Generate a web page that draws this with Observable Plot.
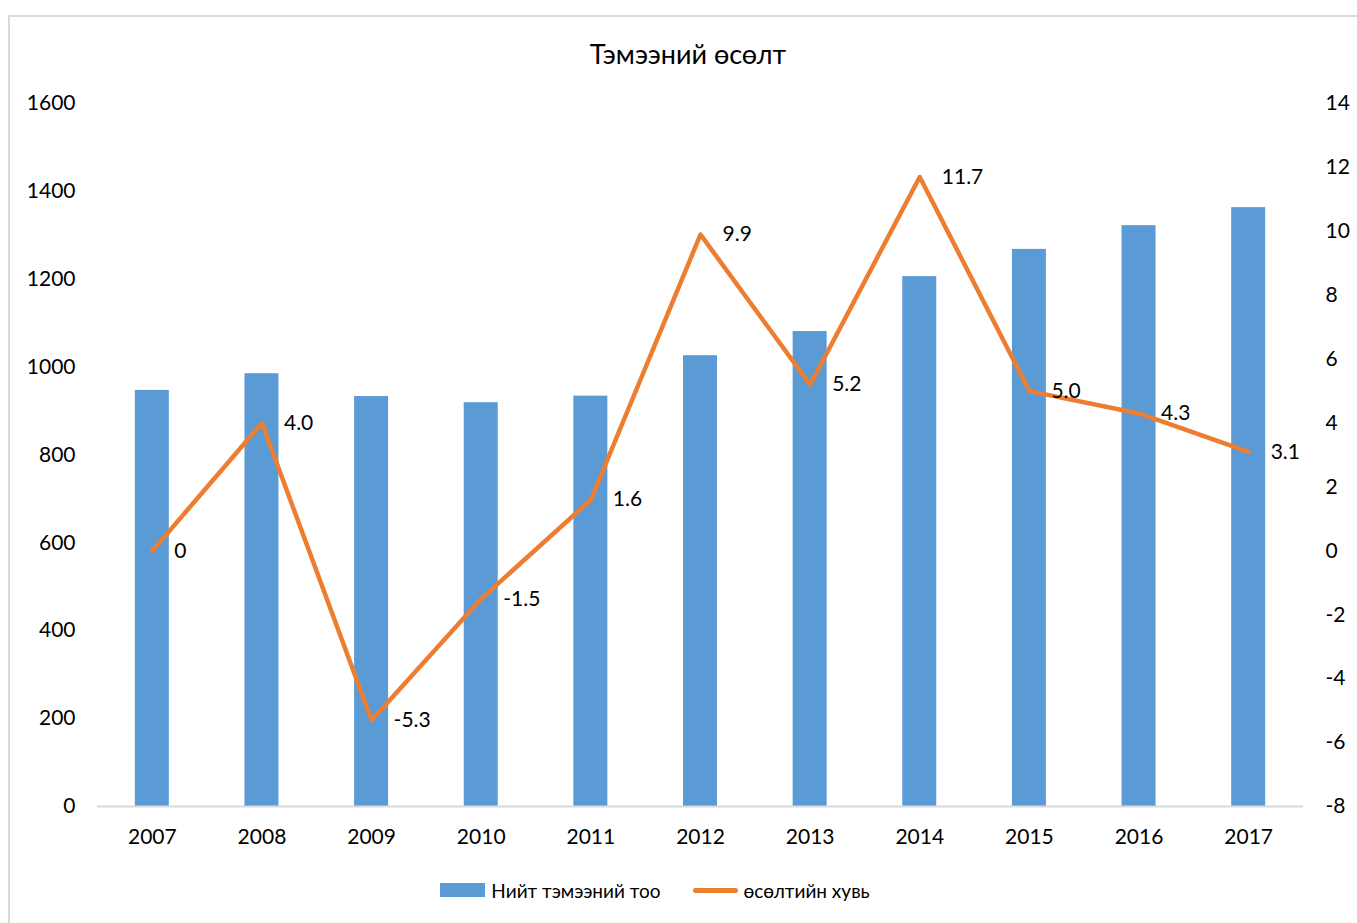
<!DOCTYPE html>
<html>
<head>
<meta charset="utf-8">
<script src="https://cdn.jsdelivr.net/npm/d3@7"></script>
<script src="https://cdn.jsdelivr.net/npm/@observablehq/plot@0.6"></script>
<style>
  html, body { margin: 0; padding: 0; background: #fff; overflow: hidden; }
  #wrap { position: relative; width: 1357px; height: 923px; font-family: Lato, "Noto Sans", sans-serif; color: #000; }
  #border { position: absolute; left: 8px; top: 15px; width: 1400px; height: 960px; border: 2px solid #d9d9d9; box-sizing: border-box; pointer-events: none; }
  #title { height: 80px; box-sizing: border-box; padding-top: 39px; padding-left: 19px; line-height: 30px; font-size: 27px; text-align: center; width: 1357px; }
  #legend { width: 1357px; box-sizing: border-box; padding-right: 47px; height: 40px; display: flex; justify-content: center; align-items: center; font-size: 19px; }
  .item { display: flex; align-items: center; margin: 0 16px; }
  .sw-bar { width: 45px; height: 14px; background: #5b9bd5; margin-right: 6px; }
  .sw-line { width: 45px; height: 5px; border-radius: 3px; background: #ed7d31; margin-right: 6px; }
</style>
</head>
<body>
<div id="wrap">
  <div id="border"></div>
  <div id="title">Тэмээний өсөлт</div>
  <div id="chart"></div>
  <div id="legend"></div>
</div>
<script>
const years = ["2007","2008","2009","2010","2011","2012","2013","2014","2015","2016","2017"];
const camels = [947, 985, 933, 919, 934, 1026, 1081, 1206, 1268, 1322, 1363];
const growth = [0, 4.0, -5.3, -1.5, 1.6, 9.9, 5.2, 11.7, 5.0, 4.3, 3.1];
const growthLabels = ["0","4.0","-5.3","-1.5","1.6","9.9","5.2","11.7","5.0","4.3","3.1"];
const leftTicks = [0, 200, 400, 600, 800, 1000, 1200, 1400, 1600];
const rightTicks = [-8, -6, -4, -2, 0, 2, 4, 6, 8, 10, 12, 14];
const seriesNames = ["Нийт тэмээний тоо", "өсөлтийн хувь"];

const leftMin = leftTicks[0], leftMax = leftTicks[leftTicks.length - 1];
const rMin = rightTicks[0], rMax = rightTicks[rightTicks.length - 1];
const toLeft = v => leftMin + (v - rMin) / (rMax - rMin) * (leftMax - leftMin);
const fromLeft = d => rMin + (d - leftMin) / (leftMax - leftMin) * (rMax - rMin);

const data = years.map((y, i) => ({year: y, count: camels[i], g: toLeft(growth[i]), label: growthLabels[i]}));

const chart = Plot.plot({
  width: 1357,
  height: 790,
  marginTop: 23,
  marginBottom: 64,
  marginLeft: 97,
  marginRight: 54,
  style: {fontFamily: 'Lato, "Noto Sans", sans-serif', fontSize: "21px", color: "#000", background: "transparent", overflow: "visible"},
  x: {domain: years, type: "band", paddingInner: 0.69, paddingOuter: 0.345, round: false, label: null},
  y: {domain: [leftMin, leftMax], nice: false, label: null},
  marks: [
    Plot.barY(data, {x: "year", y: "count", fill: "#5b9bd5"}),
    Plot.ruleY([0], {stroke: "#d9d9d9", strokeWidth: 2}),
    Plot.line(data, {x: "year", y: "g", stroke: "#ed7d31", strokeWidth: 4.5, strokeLinejoin: "round", strokeLinecap: "round"}),
    Plot.text(data, {x: "year", y: "g", text: "label", textAnchor: "start", dx: 22, fill: "#000", fontSize: 21}),
    Plot.axisY({anchor: "left", ticks: leftTicks, tickFormat: d => String(d), tickSize: 0, tickPadding: 22, label: null, fontSize: 21}),
    Plot.axisY({anchor: "right", ticks: rightTicks.map(toLeft), tickFormat: d => String(Math.round(fromLeft(d))), tickSize: 0, tickPadding: 22, label: null, fontSize: 21}),
    Plot.axisX({tickSize: 0, tickPadding: 23, label: null, fontSize: 21})
  ]
});
document.getElementById("chart").appendChild(chart);

const legend = document.getElementById("legend");
legend.innerHTML = `<div class="item"><div class="sw-bar"></div><span>${seriesNames[0]}</span></div>` +
  `<div class="item"><div class="sw-line"></div><span>${seriesNames[1]}</span></div>`;
</script>
</body>
</html>
